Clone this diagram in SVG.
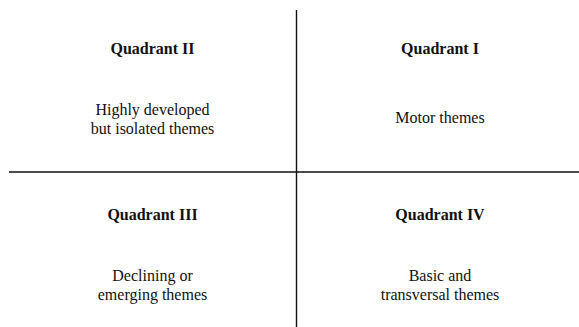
<svg xmlns="http://www.w3.org/2000/svg" width="579" height="327" viewBox="0 0 579 327">
  <style>
    .axis { stroke: #111; stroke-width: 1.4; fill: none; }
    .lbl { font-size: 16px; fill: #111; text-anchor: middle; }
    .title { font-weight: bold; }
  </style>
  <rect width="579" height="327" fill="#fff"/>
  <g id="axes">
    <line class="axis" x1="296.5" y1="10" x2="296.5" y2="327"/>
    <line class="axis" x1="9" y1="172" x2="579" y2="172"/>
  </g>
  <g font-family="'Liberation Serif', Tinos, 'Times New Roman', 'DejaVu Serif', serif">
    <g id="quadrant-2">
      <text class="lbl title" x="152.5" y="54">Quadrant II</text>
      <text class="lbl" x="152.5" y="115">Highly developed</text>
      <text class="lbl" x="152.5" y="134">but isolated themes</text>
    </g>
    <g id="quadrant-1">
      <text class="lbl title" x="440" y="54">Quadrant I</text>
      <text class="lbl" x="440" y="123">Motor themes</text>
    </g>
    <g id="quadrant-3">
      <text class="lbl title" x="152.5" y="220">Quadrant III</text>
      <text class="lbl" x="152.5" y="281">Declining or</text>
      <text class="lbl" x="152.5" y="300">emerging themes</text>
    </g>
    <g id="quadrant-4">
      <text class="lbl title" x="440" y="220">Quadrant IV</text>
      <text class="lbl" x="440" y="281">Basic and</text>
      <text class="lbl" x="440" y="300">transversal themes</text>
    </g>
  </g>
</svg>
